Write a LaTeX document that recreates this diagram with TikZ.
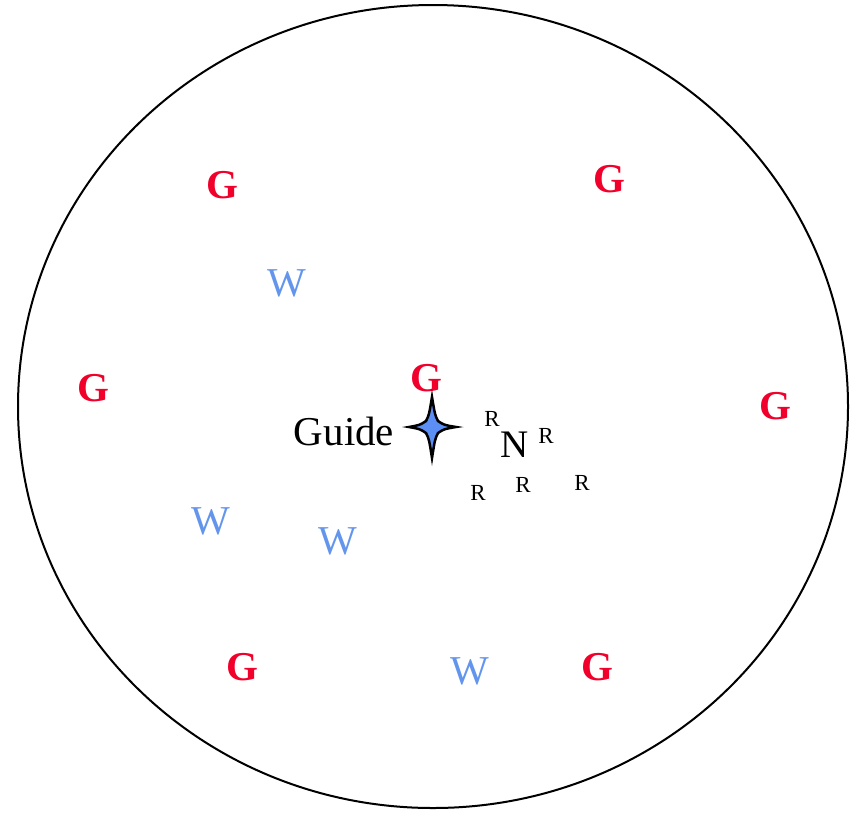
\documentclass[tikz,border=0pt]{standalone}
\usepackage{fontspec}
\setmainfont{Liberation Serif}
\usepackage{tikz}
\usetikzlibrary{positioning}
\definecolor{guardred}{HTML}{F0002A}
\definecolor{wolfblue}{HTML}{6495ED}
\definecolor{starblue}{HTML}{5B8FF5}

\tikzset{
  guard/.style={text=guardred, font=\fontsize{41}{41}\selectfont\bfseries, inner sep=0pt},
  walker/.style={text=wolfblue, font=\fontsize{41}{41}\selectfont, inner sep=0pt},
  rmark/.style={font=\fontsize{23}{23}\selectfont, inner sep=0pt},
}

\begin{document}
\begin{tikzpicture}[x=1pt, y=-1pt]
\useasboundingbox (0,0) rectangle (858,812);
% field
\draw[line width=2pt] (433,406.5) ellipse [x radius=415pt, y radius=401.5pt];

% guards
\node[guard] (g1) at (222,185) {G};
\node[guard] (g2) at (609,179) {G};
\node[guard] (g3) at (93,388) {G};
\node[guard] (g4) at (426,378) {G};
\node[guard] (g5) at (775,406) {G};
\node[guard] (g6) at (242,667) {G};
\node[guard] (g7) at (597,667) {G};

% walkers
\node[walker] (w1) at (287,283) {W};
\node[walker] (w2) at (211,521) {W};
\node[walker] (w3) at (338,541) {W};
\node[walker] (w4) at (470,671) {W};

% guide star
\coordinate (star) at (432,427);
\draw[line width=2.5pt, fill=starblue, line join=miter, shift={(star)}]
  (0,-30) .. controls (3,-12) .. (6,-6) .. controls (12,-2) .. (24,0)
  .. controls (12,2) .. (6,6) .. controls (3,12) .. (0,31)
  .. controls (-3,12) .. (-6,6) .. controls (-12,2) .. (-23,0)
  .. controls (-12,-2) .. (-6,-6) .. controls (-3,-12) .. cycle;
\node[inner sep=0pt, font=\fontsize{41}{41}\selectfont] (guide) at (344,431) {Guide};

% N and its R marks
\node[inner sep=0pt, font=\fontsize{39}{39}\selectfont] (n) at (515,445) {N};
\node[rmark] (r1) at (492,419) {R};
\node[rmark] (r2) at (546,436) {R};
\node[rmark] (r3) at (478,493) {R};
\node[rmark] (r4) at (523,485) {R};
\node[rmark] (r5) at (582,483) {R};
\end{tikzpicture}
\end{document}
